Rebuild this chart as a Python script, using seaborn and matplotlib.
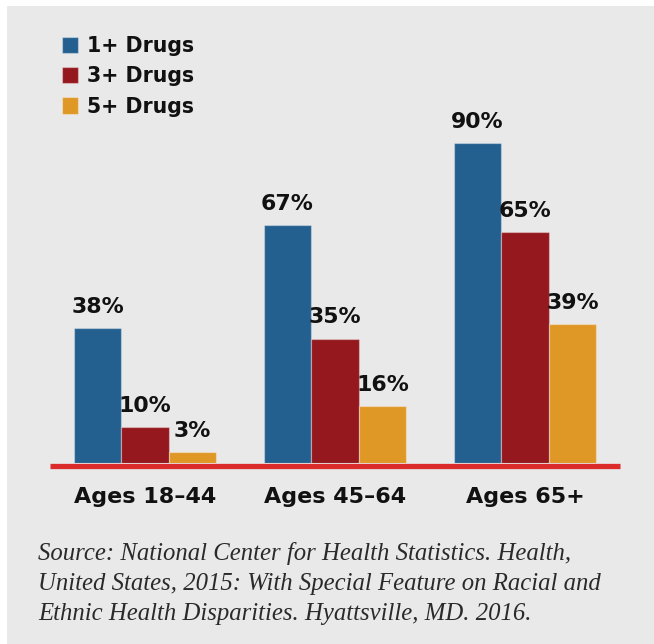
import matplotlib
matplotlib.use("Agg")
import matplotlib.pyplot as plt
import matplotlib.patches as mpatches
import pandas as pd
import seaborn as sns

# Share of adults taking prescription drugs in the past 30 days
age_groups = ["Ages 18\u201344", "Ages 45\u201364", "Ages 65+"]
drug_levels = ["1+ Drugs", "3+ Drugs", "5+ Drugs"]
pct_1plus = [38, 67, 90]
pct_3plus = [10, 35, 65]
pct_5plus = [3, 16, 39]
colors = ["#24608f", "#94181d", "#df9726"]
source_note = ("Source: National Center for Health Statistics. Health,\n"
               "United States, 2015: With Special Feature on Racial and\n"
               "Ethnic Health Disparities. Hyattsville, MD. 2016.")

rows = []
for level, vals in zip(drug_levels, [pct_1plus, pct_3plus, pct_5plus]):
    for grp, v in zip(age_groups, vals):
        rows.append({"group": grp, "level": level, "pct": v})
df = pd.DataFrame(rows)

sns.set_theme(style="white")
plt.rcParams["font.family"] = ["DejaVu Sans"]
plt.rcParams["font.weight"] = "bold"
plt.rcParams["xtick.labelsize"] = 16
plt.rcParams["xtick.color"] = "#111111"

W, H = 654, 644
fig = plt.figure(figsize=(W / 100, H / 100), dpi=100, facecolor="white")

# light gray panel behind everything
bg = mpatches.Rectangle((7 / W, 0), 1 - 7 / W, (H - 6) / H,
                        transform=fig.transFigure, facecolor="#e9e9e9",
                        edgecolor="none", zorder=-10)
fig.patches.append(bg)

ax = fig.add_axes([50 / W, (H - 463) / H, 570 / W, 355.6 / H])
ax.set_facecolor("none")

sns.barplot(data=df, x="group", y="pct", hue="level", palette=colors,
            width=0.75, saturation=1, ax=ax, legend=True,
            edgecolor=(1, 1, 1, 0.35), linewidth=0.9, zorder=3)

ax.set_xlim(-0.5, 2.5)
ax.set_ylim(0, 100)
ax.set_xlabel("")
ax.set_ylabel("")
ax.set_yticks([])
ax.tick_params(axis="x", length=0, pad=15.5, labelsize=16,
               labelcolor="#111111")

for side in ["top", "left", "right"]:
    ax.spines[side].set_visible(False)
ax.spines["bottom"].set_color("#db2b2b")
ax.spines["bottom"].set_linewidth(3.8)
ax.spines["bottom"].set_position(("outward", 1.9))
ax.spines["bottom"].set_capstyle("butt")

for cont in ax.containers:
    ax.bar_label(cont, fmt="%g%%", padding=8, fontsize=15.8,
                 fontweight="bold", color="#111111")

sns.move_legend(ax, "upper left", bbox_to_anchor=(62 / W, 1 - 36 / H),
                bbox_transform=fig.transFigure, frameon=False, title=None,
                prop={"weight": "bold", "size": 14.8},
                handlelength=0.8, handleheight=0.84, handletextpad=0.42,
                labelspacing=0.5, borderpad=0, borderaxespad=0)
for t in ax.get_legend().get_texts():
    t.set_color("#111111")

fig.text(38 / W, 1 - 620 / H, source_note, ha="left", va="baseline",
         fontsize=17.8, fontstyle="italic", fontweight="normal",
         family=["Liberation Serif"], color="#2a2a2a", linespacing=1.47)

fig.savefig("out.png", dpi=100, facecolor="white")
